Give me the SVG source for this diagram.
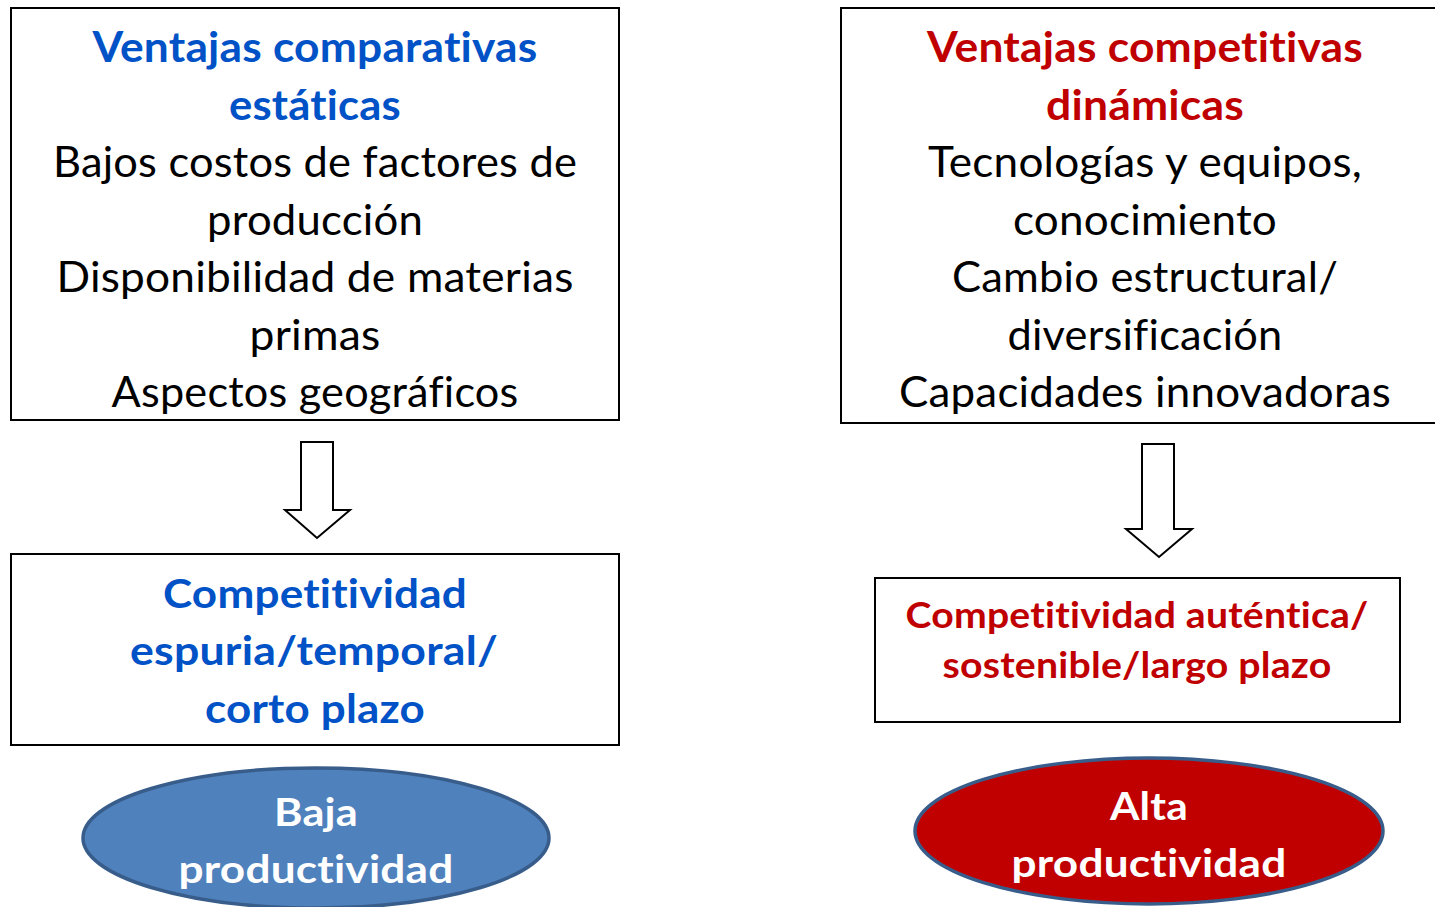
<svg xmlns="http://www.w3.org/2000/svg" width="1435" height="907" viewBox="0 0 1435 907">
<style>
.box{fill:#fff;stroke:#000;stroke-width:2}
.arrow{fill:#fff;stroke:#000;stroke-width:2;stroke-linejoin:miter}
text{font-family:Lato,"Open Sans","Liberation Sans",sans-serif;text-anchor:middle;font-variant-ligatures:none;font-feature-settings:"liga" 0,"clig" 0,"dlig" 0;letter-spacing:0.2px}
.big{font-size:42px;fill:#000}
.hb{font-size:42px;font-weight:bold;fill:#0052C6}
.hr{font-size:42px;font-weight:bold;fill:#C00000}
.sb{font-size:40px;font-weight:bold;fill:#0052C6}
.sr{font-size:37px;font-weight:bold;fill:#C00000}
.ew{font-size:39px;font-weight:bold;fill:#fff}
</style>
<rect width="1435" height="907" fill="#fff"/>
<g id="static-box">
<rect class="box" x="11" y="8" width="608" height="412"/>
<text class="hb" x="315" y="62" textLength="445" lengthAdjust="spacingAndGlyphs">Ventajas comparativas</text>
<text class="hb" x="315" y="119.5" textLength="172" lengthAdjust="spacingAndGlyphs">estáticas</text>
<text class="big" x="315" y="177" textLength="524" lengthAdjust="spacingAndGlyphs">Bajos costos de factores de</text>
<text class="big" x="315" y="234.5" textLength="216" lengthAdjust="spacingAndGlyphs">producción</text>
<text class="big" x="315" y="292" textLength="517" lengthAdjust="spacingAndGlyphs">Disponibilidad de materias</text>
<text class="big" x="315" y="349.5" textLength="131" lengthAdjust="spacingAndGlyphs">primas</text>
<text class="big" x="315" y="407" textLength="407" lengthAdjust="spacingAndGlyphs">Aspectos geográficos</text>
</g>
<g id="dynamic-box">
<rect class="box" x="841" y="8" width="600" height="415"/>
<text class="hr" x="1145" y="62" textLength="436" lengthAdjust="spacingAndGlyphs">Ventajas competitivas</text>
<text class="hr" x="1145" y="119.5" textLength="198" lengthAdjust="spacingAndGlyphs">dinámicas</text>
<text class="big" x="1145" y="177" textLength="434" lengthAdjust="spacingAndGlyphs">Tecnologías y equipos,</text>
<text class="big" x="1145" y="234.5" textLength="264" lengthAdjust="spacingAndGlyphs">conocimiento</text>
<text class="big" x="1145" y="292" textLength="386" lengthAdjust="spacingAndGlyphs">Cambio estructural/</text>
<text class="big" x="1145" y="349.5" textLength="275" lengthAdjust="spacingAndGlyphs">diversificación</text>
<text class="big" x="1145" y="407" textLength="492" lengthAdjust="spacingAndGlyphs">Capacidades innovadoras</text>
</g>
<g id="connectors">
<path class="arrow" d="M301,442 H333 V510 H350 L317,538 L285,510 H301 Z"/>
<path class="arrow" d="M1142,444 H1174 V529 H1192 L1159,557 L1126,529 H1142 Z"/>
</g>
<g id="spurious-box">
<rect class="box" x="11" y="554" width="608" height="191"/>
<text class="sb" x="315" y="608" textLength="304" lengthAdjust="spacingAndGlyphs">Competitividad</text>
<text class="sb" x="314" y="665" textLength="368" lengthAdjust="spacingAndGlyphs">espuria/temporal/</text>
<text class="sb" x="315" y="723" textLength="220" lengthAdjust="spacingAndGlyphs">corto plazo</text>
</g>
<g id="authentic-box">
<rect class="box" x="875" y="578" width="525" height="144"/>
<text class="sr" x="1137" y="628" textLength="463" lengthAdjust="spacingAndGlyphs">Competitividad auténtica/</text>
<text class="sr" x="1137" y="678" textLength="389" lengthAdjust="spacingAndGlyphs">sostenible/largo plazo</text>
</g>
<g id="low-productivity">
<ellipse cx="316" cy="838" rx="233" ry="70" fill="#4F81BD" stroke="#385D8A" stroke-width="3.5"/>
<text class="ew" x="316" y="826" textLength="84" lengthAdjust="spacingAndGlyphs">Baja</text>
<text class="ew" x="316" y="883" textLength="275" lengthAdjust="spacingAndGlyphs">productividad</text>
</g>
<g id="high-productivity">
<ellipse cx="1149" cy="831" rx="234" ry="73" fill="#C00000" stroke="#385D8A" stroke-width="3.5"/>
<text class="ew" x="1149" y="820" textLength="78" lengthAdjust="spacingAndGlyphs">Alta</text>
<text class="ew" x="1149" y="877" textLength="275" lengthAdjust="spacingAndGlyphs">productividad</text>
</g>
</svg>
